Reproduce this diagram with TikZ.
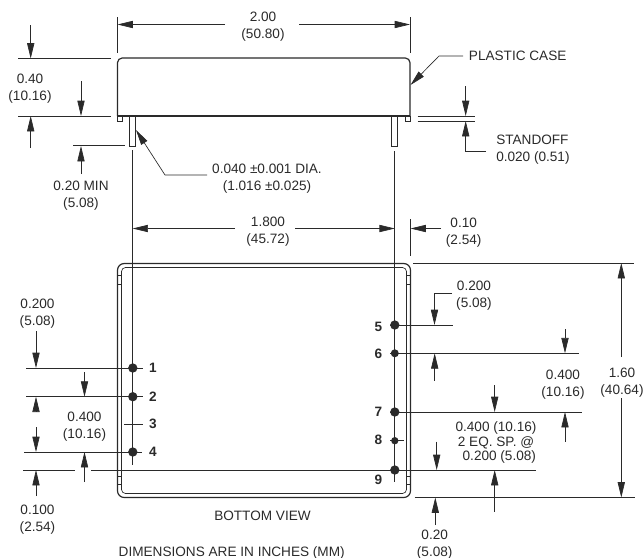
\documentclass[tikz,border=0pt]{standalone}
\usepackage{fontspec}
\setmainfont{Liberation Sans}
\usetikzlibrary{arrows.meta}
\definecolor{inkgray}{HTML}{2A2A2A}
\tikzset{
  dim/.style={draw=inkgray,line width=0.5pt},
  dimarrow/.style={dim,-{Triangle[length=11.5pt,width=5.4pt]}},
  dimtext/.style={text=inkgray,font=\fontsize{10.2}{12}\selectfont,inner sep=0pt,align=center,yshift=-1.7pt},
  pinlabel/.style={text=inkgray,font=\fontsize{10.2}{12}\selectfont\bfseries,inner sep=0pt},
  casepart/.style={draw=inkgray,line width=0.9pt},
  pindot/.style={circle,fill=inkgray,inner sep=0pt,minimum size=7pt}
}
\begin{document}
\begin{tikzpicture}[x=0.75pt,y=-0.75pt]
    \useasboundingbox (0,0) rectangle (644,558);

    % Side view
    \draw[casepart,rounded corners=3.5pt] (117.5,116) -- (117.5,58) -- (410,58) -- (410,116);
    \draw[casepart] (117.5,116) -- (410,116);
    \draw[dim] (117.5,116) rectangle (122.5,121);
    \draw[dim] (405,116) rectangle (410,121);
    \draw[dim,line width=0.6pt] (129.7,116) rectangle (135.5,146);
    \draw[dim,line width=0.6pt] (391.8,116) rectangle (397.7,146);

    % 2.00
    \draw[dim] (117.5,17) -- (117.5,53);
    \draw[dim] (410,17) -- (410,53);
    \node[dimtext] (widthcase) at (263,24.5) {2.00\\[0.6pt](50.80)};
    \coordinate (widthcaseL) at (225,24.5);
    \coordinate (widthcaseR) at (299,24.5);
    \draw[dimarrow] (widthcaseL) -- (117.5,24.5);
    \draw[dimarrow] (widthcaseR) -- (410,24.5);

    % 0.40
    \draw[dim] (18,58.5) -- (111,58.5);
    \draw[dim] (18,116) -- (111,116);
    \node[dimtext] (heightcase) at (30,86.5) {0.40\\[0.6pt](10.16)};
    \draw[dimarrow] (30.7,25) -- (30.7,58.5);
    \draw[dimarrow] (30.7,148) -- (30.7,116);
    \draw[dimarrow] (81,81) -- (81,116);

    % 0.20 MIN
    \draw[dim] (73,145.5) -- (125,145.5);
    \draw[dimarrow] (81,174) -- (81,146);
    \node[dimtext] (pinlength) at (81,193.5) {0.20 MIN\\[0.6pt](5.08)};

    % Pin diameter
    \node[dimtext] (pindia) at (267,176.5) {0.040 ±0.001 DIA.\\[0.6pt](1.016 ±0.025)};
    \draw[dimarrow] (207,175) -- (165,175) -- (136,130);

    % Plastic case
    \node[dimtext,anchor=west] (plastic) at (468.7,53.5) {PLASTIC CASE};
    \draw[dimarrow] (463,56) -- (439,56) -- (410.5,85);

    % Standoff
    \draw[dim] (417.7,116) -- (475,116);
    \draw[dim] (417.7,121) -- (475,121);
    \draw[dimarrow] (465.7,86) -- (465.7,116);
    \draw[dimarrow] (486,151) -- (465.7,151) -- (465.7,121);
    \node[dimtext,anchor=west,align=left] (standoff) at (496,147) {STANDOFF\\[0.6pt]0.020 (0.51)};

    % 1.800 and 0.10
    \draw[dim] (132.6,150) -- (132.6,465);
    \draw[dim] (394.8,151) -- (394.8,481.7);
    \node[dimtext] (pitch) at (268,229) {1.800\\[0.6pt](45.72)};
    \draw[dimarrow] (235,228.5) -- (132.6,228.5);
    \draw[dimarrow] (295,228.5) -- (394.8,228.5);
    \draw[dim] (410.5,219) -- (410.5,256);
    \draw[dimarrow] (441,228.5) -- (410.5,228.5);
    \node[dimtext] (pinedge) at (463.7,230) {0.10\\[0.6pt](2.54)};

    % Bottom view
    \draw[casepart,rounded corners=5pt] (117.5,263.5) rectangle (410.5,497.5);
    \draw[dim,rounded corners=3pt] (121.5,267.5) rectangle (406.5,493.5);
    \draw[dim] (117.5,275) -- (121.5,275) (117.5,284) -- (121.5,284);
    \draw[dim] (117.5,476) -- (121.5,476) (117.5,484) -- (121.5,484);
    \draw[dim] (406.5,275) -- (410.5,275) (406.5,284) -- (410.5,284);
    \draw[dim] (406.5,476) -- (410.5,476) (406.5,484) -- (410.5,484);

    % Pin rows
    \draw[dim] (26,368) -- (143,368);
    \draw[dim] (26,396.7) -- (143,396.7);
    \draw[dim] (124,424) -- (143,424);
    \draw[dim] (24,452) -- (142,452);
    \draw[dim] (23,470) -- (75,470);
    \draw[dim] (91,470) -- (536,470);
    \draw[dim] (390,325) -- (453,325);
    \draw[dim] (390,353.3) -- (579,353.3);
    \draw[dim] (390,412) -- (582,412);
    \draw[dim] (390,440.7) -- (403.7,440.7);

    \node[pindot] (p1) at (132.8,368) {};
    \node[pindot] (p2) at (132.8,396.7) {};
    \node[pindot] (p4) at (132.8,452) {};
    \node[pindot] (p5) at (394.8,325) {};
    \node[pindot,minimum size=6pt] (p6) at (394.8,353.3) {};
    \node[pindot] (p7) at (394.8,412) {};
    \node[pindot,minimum size=5.5pt] (p8) at (394.8,440.7) {};
    \node[pindot] (p9) at (394.8,470) {};

    \node[pinlabel] (l1) at (153,367.5) {1};
    \node[pinlabel] (l2) at (153,397) {2};
    \node[pinlabel] (l3) at (153,423.5) {3};
    \node[pinlabel] (l4) at (153,451.5) {4};
    \node[pinlabel] (l5) at (378.5,326.5) {5};
    \node[pinlabel] (l6) at (378.5,354) {6};
    \node[pinlabel] (l7) at (378.5,412) {7};
    \node[pinlabel] (l8) at (378.5,440) {8};
    \node[pinlabel] (l9) at (378.5,479.5) {9};

    % Left dimensions
    \node[dimtext] (pin1top) at (37.5,311.5) {0.200\\[0.6pt](5.08)};
    \draw[dimarrow] (36,331) -- (36,368);
    \draw[dimarrow] (84.5,372) -- (84.5,396.7);
    \draw[dimarrow] (36,411) -- (36,396.7);
    \draw[dimarrow] (36,427) -- (36,452);
    \draw[dimarrow] (84.5,482) -- (84.5,452);
    \node[dimtext] (pinrow) at (84.5,424) {0.400\\[0.6pt](10.16)};
    \draw[dimarrow] (36,496) -- (36,470);
    \node[dimtext] (pin4low) at (37.5,517.5) {0.100\\[0.6pt](2.54)};

    % Right dimensions
    \node[dimtext] (pin5top) at (474,293.5) {0.200\\[0.6pt](5.08)};
    \draw[dimarrow] (452,293.5) -- (434.5,293.5) -- (434.5,325);
    \draw[dimarrow] (565,329) -- (565,353.3);
    \draw[dimarrow] (565,441.7) -- (565,412);
    \node[dimtext] (pin67) at (563,382.5) {0.400\\[0.6pt](10.16)};
    \draw[dimarrow] (434.7,380.7) -- (434.7,353.3);
    \draw[dimarrow] (494.7,385) -- (494.7,412);
    \draw[dimarrow] (494.7,511.7) -- (494.7,470);
    \draw[dimarrow] (436.7,441.7) -- (436.7,470);
    \node[dimtext] (pin79) at (496,440.5) {0.400 (10.16)\\[-1.2pt]2 EQ. SP. @\\[-1.2pt]\hspace*{5pt}0.200 (5.08)};

    % 1.60
    \draw[dim] (413,263) -- (634,263);
    \draw[dim] (414.7,497.5) -- (634.7,497.5);
    \node[dimtext] (lengthcase) at (622,380.7) {1.60\\[0.6pt](40.64)};
    \draw[dimarrow] (621.3,357) -- (621.3,263);
    \draw[dimarrow] (621.3,398) -- (621.3,497.5);

    % 0.20 bottom
    \draw[dimarrow] (435.3,525) -- (435.3,497.5);
    \node[dimtext] (pin9low) at (434.7,542.5) {0.20\\[0.6pt](5.08)};

    \node[dimtext] (bottomview) at (262.5,513.5) {BOTTOM VIEW};
    \node[dimtext] (units) at (231.7,550.5) {DIMENSIONS ARE IN INCHES (MM)};
\end{tikzpicture}
\end{document}
